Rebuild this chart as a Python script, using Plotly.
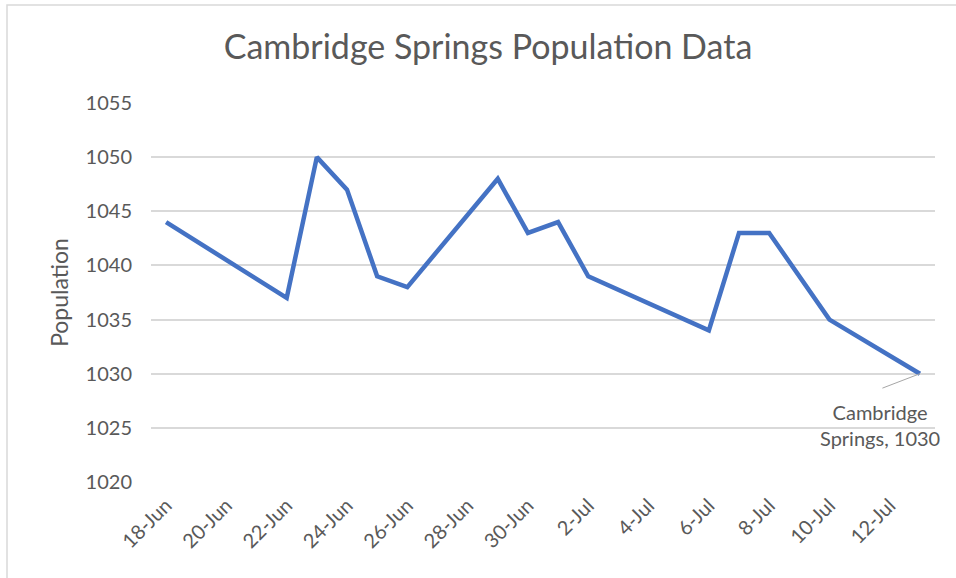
import plotly.graph_objects as go

dates = ["2020-06-18", "2020-06-22", "2020-06-23", "2020-06-24", "2020-06-25",
         "2020-06-26", "2020-06-29", "2020-06-30", "2020-07-01", "2020-07-02",
         "2020-07-06", "2020-07-07", "2020-07-08", "2020-07-10", "2020-07-13"]
population = [1044, 1037, 1050, 1047, 1039, 1038, 1048, 1043, 1044, 1039,
              1034, 1043, 1043, 1035, 1030]
series_name = "Cambridge Springs"
title_text = "Cambridge Springs Population Data"
y_title = "Population"

FONT = "Lato"
GREY = "#595959"

fig = go.Figure()
fig.add_trace(go.Scatter(
    x=dates, y=population, mode="lines", name=series_name,
    line=dict(color="#4472c4", width=4.5),
    hoverinfo="x+y",
))

last_x, last_y = dates[-1], population[-1]
# leader line
fig.add_annotation(x=last_x, y=last_y, text="", showarrow=True,
                   arrowhead=0, arrowwidth=1, arrowcolor="#a6a6a6",
                   ax=-39, ay=15)
# data label
fig.add_annotation(x=last_x, y=last_y,
                   text=f"{series_name.split(' ')[0]}<br>{series_name.split(' ')[1]}, {last_y}",
                   showarrow=False, xanchor="center", yanchor="top",
                   xshift=-40, yshift=-24, align="center",
                   font=dict(family=FONT, size=20, color=GREY))

fig.update_layout(
    width=956, height=578,
    margin=dict(l=151, r=21, t=103, b=96),
    paper_bgcolor="white", plot_bgcolor="white",
    showlegend=False,
    title=dict(text=title_text, x=488 / 956, xanchor="center", xref="container",
               y=1 - 47 / 578, yanchor="middle", yref="container",
               font=dict(family=FONT, size=34, color=GREY)),
    font=dict(family=FONT, color=GREY),
)
fig.update_xaxes(
    type="date",
    range=["2020-06-17 12:00", "2020-07-13 12:00"],
    tick0="2020-06-18", dtick=2 * 86400000,
    tickformat="%-d-%b", tickangle=-45,
    tickfont=dict(family=FONT, size=20, color=GREY),
    showgrid=False, zeroline=False, showline=False,
    ticks="", ticklen=0, ticklabelstandoff=7,
)
fig.update_yaxes(
    range=[1020, 1055], dtick=5, tick0=1020,
    tickfont=dict(family=FONT, size=20, color=GREY),
    showgrid=True, gridcolor="#d9d9d9", gridwidth=1.5,
    zeroline=False, showline=False, ticks="", ticklabelstandoff=18,
    title=dict(text=y_title, standoff=10,
               font=dict(family=FONT, size=23, color=GREY)),
)
# chart border (top and left visible in crop)
fig.add_shape(type="rect", xref="paper", yref="paper",
              x0=(7 - 151) / 784, x1=1.2, y0=-0.6, y1=(482 - 5) / 379,
              line=dict(color="#d9d9d9", width=1.5), fillcolor="rgba(0,0,0,0)",
              layer="below")

fig.write_html("out.html", config={"displayModeBar": False},
               post_script="document.body.style.margin='0';")
